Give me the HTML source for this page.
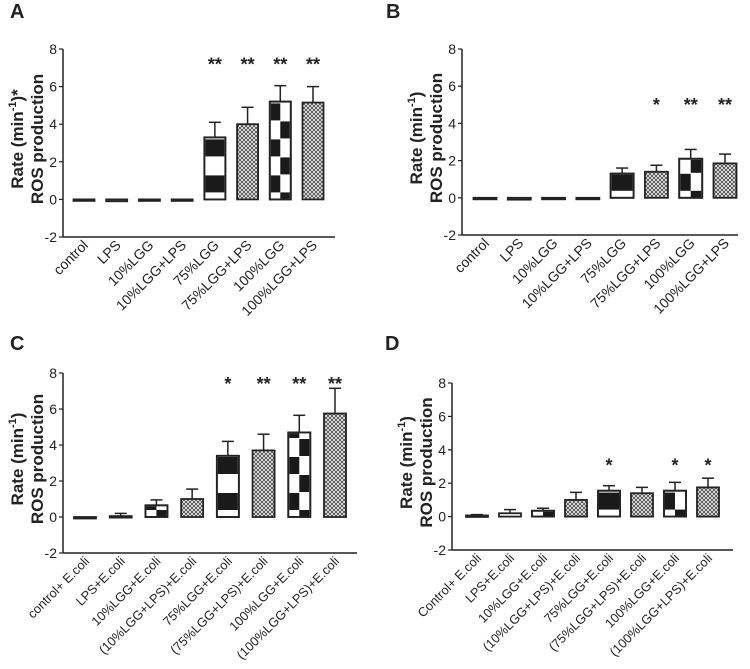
<!DOCTYPE html>
<html><head><meta charset="utf-8">
<style>
body{margin:0;background:#fff;}
svg text{font-family:"Liberation Sans",Arial,sans-serif;fill:#222;}
</style></head>
<body>
<svg id="fig" width="750" height="664" viewBox="0 0 750 664" xmlns="http://www.w3.org/2000/svg">
<defs>
<pattern id="hatch" width="4" height="4" patternUnits="userSpaceOnUse">
<rect width="4" height="4" fill="#fff"/>
<path d="M0,0 L4,4 M4,0 L0,4" stroke="#555" stroke-width="1"/>
</pattern>
</defs>
</svg>
<script>
// Panel data
const catsA = ["control","LPS","10%LGG","10%LGG+LPS","75%LGG","75%LGG+LPS","100%LGG","100%LGG+LPS"];
const valsA = [0,-0.1,-0.05,-0.03,3.3,4.0,5.2,5.15];
const errsA = [0,0.05,0,0,0.8,0.9,0.85,0.85];
const starsA = ["","","","","**","**","**","**"];
const catsB = ["control","LPS","10%LGG","10%LGG+LPS","75%LGG","75%LGG+LPS","100%LGG","100%LGG+LPS"];
const valsB = [0,-0.1,-0.05,-0.05,1.3,1.4,2.1,1.85];
const errsB = [0,0,0,0,0.3,0.35,0.5,0.5];
const starsB = ["","","","","","*","**","**"];
const catsC = ["control+ E.coli","LPS+E.coli","10%LGG+E.coli","(10%LGG+LPS)+E.coli","75%LGG+E.coli","(75%LGG+LPS)+E.coli","100%LGG+E.coli","(100%LGG+LPS)+E.coli"];
const valsC = [-0.05,0.05,0.65,1.0,3.4,3.7,4.7,5.75];
const errsC = [0,0.15,0.3,0.55,0.8,0.9,0.95,1.4];
const starsC = ["","","","","*","**","**","**"];
const catsD = ["Control+ E.coli","LPS+E.coli","10%LGG+E.coli","(10%LGG+LPS)+E.coli","75%LGG+E.coli","(75%LGG+LPS)+E.coli","100%LGG+E.coli","(100%LGG+LPS)+E.coli"];
const valsD = [0.07,0.2,0.35,1.0,1.55,1.4,1.55,1.75];
const errsD = [0.05,0.22,0.15,0.45,0.3,0.35,0.5,0.55];
const starsD = ["","","","","*","","*","*"];
const yTicks = [-2,0,2,4,6,8];
const fillTypes = ["plain","plain","checker","hatch","bands","hatch","checker","hatch"];

const NS="http://www.w3.org/2000/svg";
const svg=document.getElementById('fig');
function mk(tag,attrs,parent){const e=document.createElementNS(NS,tag);for(const k in attrs)e.setAttribute(k,attrs[k]);(parent||svg).appendChild(e);return e;}

function panel(letter,lx,ly,ax,y8,ym2,xEnd,c0,cN,bw,starVal,cats,vals,errs,stars,ylab,lfs){
  const g=mk('g',{});
  
  
  const yS=v=>ym2+(v+2)*(y8-ym2)/10;
  const xS=i=>c0+i*(cN-c0)/(cats.length-1);
  const t=mk('text',{x:lx,y:ly,'font-size':20,'font-weight':'bold'},g);t.textContent=letter;
  
  
  const ya=mk('line',{x1:ax,y1:y8,x2:ax,y2:ym2,stroke:'#222','stroke-width':1.5},g);
  
  
  const xa=mk('line',{x1:ax,y1:ym2,x2:xEnd,y2:ym2,stroke:'#222','stroke-width':1.5},g);
  
  
  yTicks.forEach(v=>{
    mk('line',{x1:ax-4,y1:yS(v),x2:ax,y2:yS(v),stroke:'#222','stroke-width':1.2},g);
    const tt=mk('text',{x:ax-6,y:yS(v)+5,'font-size':14,'text-anchor':'end'},g);tt.textContent=v;
    
    
  });
  const cy=(y8+ym2)/2-4;
  const yl=mk('text',{transform:`translate(${ax-38},${cy}) rotate(-90)`,'font-size':17,'font-weight':'bold','text-anchor':'middle'},g);
  
  
  const t1=mk('tspan',{x:0,dy:-2},yl);t1.textContent='Rate (min';
  const t2=mk('tspan',{dy:-7,'font-size':11},yl);t2.textContent='-1';
  const t3=mk('tspan',{dy:7},yl);t3.textContent=ylab;
  const t4=mk('tspan',{x:0,dy:20},yl);t4.textContent='ROS production';
  const z=yS(0);
  cats.forEach((c,i)=>{
    const cx=xS(i),v=vals[i],e=errs[i];
    const top=Math.min(yS(v),z),h=Math.max(Math.abs(yS(v)-z),1.5);
    const type=fillTypes[i];
    if(e>0){
      const et=yS(v+e);
      mk('line',{x1:cx,y1:Math.min(yS(v),z),x2:cx,y2:et,stroke:'#222','stroke-width':1.5},g);
      mk('line',{x1:cx-6,y1:et,x2:cx+6,y2:et,stroke:'#222','stroke-width':1.5},g);
    }
    const bar=mk('rect',{x:cx-bw/2,y:top,width:bw,height:h,fill:type==='hatch'?'url(#hatch)':'#fff',stroke:'#222','stroke-width':1.8},g);
    
    
    if(v>0.15&&(type==='bands'||type==='checker')){
      const bot=z;
      const blk=(x,w,a,b)=>{const y1=Math.max(bot-b,top+1),y2=bot-a;if(y2>y1)mk('rect',{x:x,y:y1,width:w,height:y2-y1,fill:'#1a1a1a'},g);};
      const L=cx-bw/2+1,W=bw-2;
      if(type==='bands'){for(let k=0;k<8;k++)blk(L,W,7+36*k,24+36*k);}
      else{const hw=W/2;for(let k=0;k<8;k++){blk(L,hw,7+36*k,24+36*k);blk(L+hw,hw,25+36*k,42+36*k);}blk(L+hw,hw,0,7);}
      mk('rect',{x:cx-bw/2,y:top,width:bw,height:h,fill:'none',stroke:'#222','stroke-width':1.8},g);
    }
    if(stars[i]){const s=mk('text',{x:cx,y:yS(starVal)+10,'font-size':18,'font-weight':'bold','text-anchor':'middle'},g);s.textContent=stars[i];
      
      }
    const lb=mk('text',{transform:`translate(${cx+5},${ym2+9}) rotate(-45)`,'font-size':lfs,'text-anchor':'end'},g);
    lb.textContent=c;
    
    
  });
}
panel('A',10,18,63,49,237,335,84,313,21,7.4,catsA,valsA,errsA,starsA,')*',14);
panel('B',386,18,462,49,235,738,485,725,23,5.2,catsB,valsB,errsB,starsB,')',14);
panel('C',10,350,63,373,553,357,85,335,22,7.6,catsC,valsC,errsC,starsC,')',12.8);
panel('D',385,350,452,383,550,733,477,708,22,3.3,catsD,valsD,errsD,starsD,')',12.8);
</script>
</body></html>
